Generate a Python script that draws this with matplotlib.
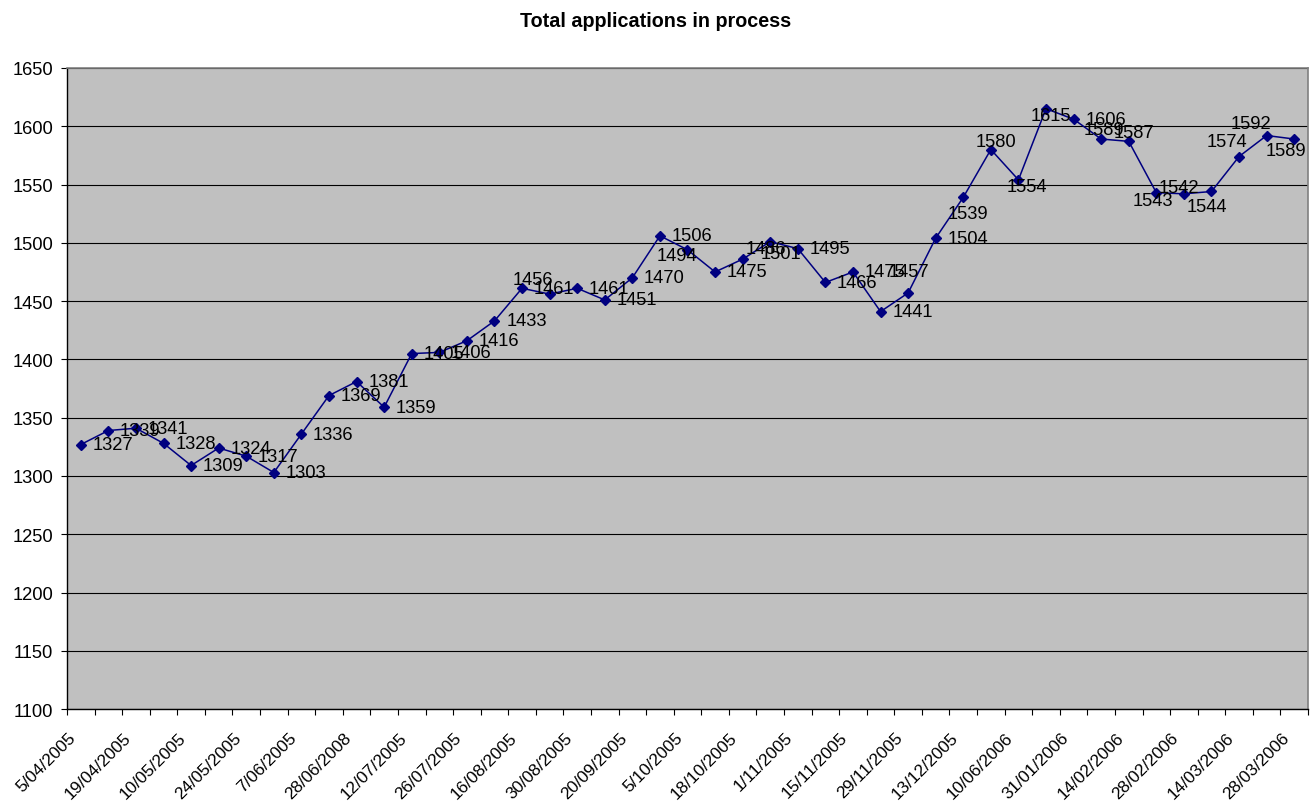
import matplotlib
matplotlib.use("Agg")
import matplotlib.pyplot as plt
from matplotlib.ticker import FixedLocator, MultipleLocator
import matplotlib.transforms as mtransforms

values = [1327, 1339, 1341, 1328, 1309, 1324, 1317, 1303, 1336, 1369, 1381, 1359,
          1405, 1406, 1416, 1433, 1461, 1456, 1461, 1451, 1470, 1506, 1494, 1475,
          1486, 1501, 1495, 1466, 1475, 1441, 1457, 1504, 1539, 1580, 1554, 1615,
          1606, 1589, 1587, 1543, 1542, 1544, 1574, 1592, 1589]

tick_labels = ["5/04/2005", "19/04/2005", "10/05/2005", "24/05/2005", "7/06/2005",
               "28/06/2008", "12/07/2005", "26/07/2005", "16/08/2005", "30/08/2005",
               "20/09/2005", "5/10/2005", "18/10/2005", "1/11/2005", "15/11/2005",
               "29/11/2005", "13/12/2005", "10/06/2006", "31/01/2006", "14/02/2006",
               "28/02/2006", "14/03/2006", "28/03/2006"]

# label offsets in pixels (dx of text left edge from point, dy of text center; +dy = down)
default_off = (11.7, 0.0)
custom_off = {
    17: (-36.6, -15.0),
    22: (-31.0, 6.0),
    24: (3.0, -11.0),
    25: (-10.0, 12.0),
    30: (-19.4, -21.0),
    32: (-15.4, 16.3),
    33: (-15.0, -8.0),
    34: (-12.0, 6.7),
    35: (-15.7, 6.7),
    37: (-18.0, -9.3),
    38: (-15.0, -8.7),
    39: (-23.7, 8.0),
    40: (-25.0, -6.0),
    41: (-25.0, 14.7),
    42: (-32.3, -15.0),
    43: (-36.0, -12.4),
    44: (-29.0, 11.0),
}

plt.rcParams['font.family'] = ['Liberation Sans', 'DejaVu Sans']
FS = 13.2

W, H = 1311, 803
fig = plt.figure(figsize=(W / 100, H / 100), dpi=100)
left, right, top, bottom = 67, 1308, 68.9, 710.2
ax = fig.add_axes([left / W, (H - bottom) / H, (right - left) / W, (bottom - top) / H])
ax.set_facecolor('#C0C0C0')

x = list(range(len(values)))
ax.plot(x, values, color='#000080', lw=1.1, marker='D', markersize=5.5,
        markerfacecolor='#000080', markeredgecolor='#000080', zorder=3)

ax.set_xlim(-0.5, len(values) - 0.5)
ax.set_ylim(1100, 1650)
ax.yaxis.set_major_locator(MultipleLocator(50))
ax.grid(axis='y', color='black', lw=0.8)
ax.set_axisbelow(True)

# x ticks: marks at category boundaries, labels every 2 categories
ax.xaxis.set_major_locator(FixedLocator([i - 0.5 for i in range(len(values) + 1)]))
ax.set_xticklabels([])
ax.xaxis.set_minor_locator(FixedLocator(list(range(0, len(values), 2))))
ax.set_xticklabels(tick_labels, minor=True, rotation=45, ha='right',
                   rotation_mode='anchor', fontsize=12.4)
ax.tick_params(axis='x', which='minor', length=0, pad=14.5)
ax.tick_params(axis='x', which='major', length=4.3, width=0.8, direction='out')
ax.tick_params(axis='y', length=4.3, width=0.8, direction='out', labelsize=FS, pad=5.8)
shift = mtransforms.ScaledTranslation(-13 / 100, 0, fig.dpi_scale_trans)
for lab in ax.get_xticklabels(minor=True):
    lab.set_transform(lab.get_transform() + shift)

for s in ['left', 'bottom']:
    ax.spines[s].set_color('black')
    ax.spines[s].set_linewidth(1.0)
for s in ['top', 'right']:
    ax.spines[s].set_color('#808080')
    ax.spines[s].set_linewidth(1.2)

for i, v in enumerate(values):
    dx, dy = custom_off.get(i, default_off)
    ax.annotate(str(v), (i, v), xytext=(dx * 0.72, -dy * 0.72), textcoords='offset points',
                ha='left', va='center', fontsize=FS, color='black', zorder=4)

fig.text(0.5, 1 - 26.7 / H, 'Total applications in process', ha='center', va='baseline',
         fontsize=14.2, fontweight='bold')

fig.savefig('out.png', dpi=100)
